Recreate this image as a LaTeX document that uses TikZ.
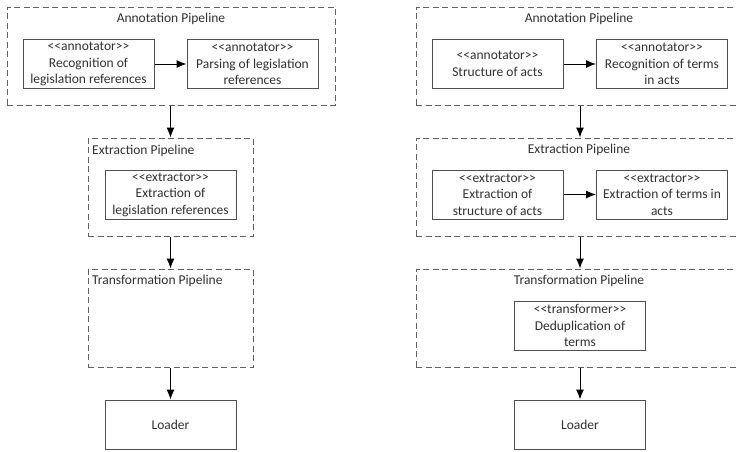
\documentclass[tikz,border=0pt]{standalone}
\usepackage{fontspec}
\setmainfont{Carlito}
\usetikzlibrary{arrows.meta}
\newcommand{\stL}{<\kern0pt<}
\newcommand{\stR}{>\kern0pt>}
\definecolor{boxc}{HTML}{505050}
\definecolor{dashc}{HTML}{606060}
\definecolor{txtc}{HTML}{303030}
\begin{document}
\begin{tikzpicture}[x=1pt,y=-1pt,
  pipe/.style={draw=dashc, line width=1pt, dash pattern=on 6pt off 3.5pt, minimum width=#1, minimum height=98pt, inner sep=0pt},
  comp/.style={draw=boxc, line width=1pt, minimum width=131pt, minimum height=49pt, inner sep=0pt, align=center, text=txtc, font=\fontsize{13.5}{16.5}\selectfont},
  ttl/.style={text=txtc, font=\fontsize{13.5}{15}\selectfont, inner sep=0pt},
  flow/.style={-{Latex[length=10pt,width=8pt]}, line width=1pt, black}]
\useasboundingbox (0,0) rectangle (737,451);
\clip (0,0) rectangle (737,451);
% ---------------- Left column
\node[pipe=328pt] (la) at (171,56) {};
\node[ttl] (lat) at (171,19) {Annotation Pipeline};
\node[comp] (l1) at (88.5,64) {\stL annotator\stR\\Recognition of\\legislation references};
\node[comp] (l2) at (252.5,64) {\stL annotator\stR\\Parsing of legislation\\references};
\node[pipe=165pt] (le) at (170.5,187) {};
\node[ttl, anchor=west] (let) at (92,151) {Extraction Pipeline};
\node[comp] (l3) at (170.5,194.5) {\stL extractor\stR\\Extraction of\\legislation references};
\node[pipe=165pt] (lt) at (170.5,318) {};
\node[ttl, anchor=west] (ltt) at (92,281) {Transformation Pipeline};
\node[comp] (ll) at (170.5,424.5) {Loader};
\draw[flow] (l1) -- (l2);
\draw[flow] (le.north |- la.south) -- (le.north);
\draw[flow] (le) -- (lt);
\draw[flow] (lt) -- (ll);
% ---------------- Right column
\node[pipe=328pt] (ra) at (580,56) {};
\node[ttl] (rat) at (579,19) {Annotation Pipeline};
\node[comp] (r1) at (497.5,64) {\stL annotator\stR\\Structure of acts};
\node[comp] (r2) at (662,64) {\stL annotator\stR\\Recognition of terms\\in acts};
\node[pipe=328pt] (re) at (580,187) {};
\node[ttl] (ret) at (579,150) {Extraction Pipeline};
\node[comp] (r3) at (497.5,194.5) {\stL extractor\stR\\Extraction of\\structure of acts};
\node[comp] (r4) at (662,194.5) {\stL extractor\stR\\Extraction of terms in\\acts};
\node[pipe=328pt] (rt) at (580,318) {};
\node[ttl] (rtt) at (579,281) {Transformation Pipeline};
\node[comp] (r5) at (580,325.5) {\stL transformer\stR\\Deduplication of\\terms};
\node[comp] (rl) at (580,424.5) {Loader};
\draw[flow] (r1) -- (r2);
\draw[flow] (r3) -- (r4);
\draw[flow] (ra) -- (re);
\draw[flow] (re) -- (rt);
\draw[flow] (rt) -- (rl);
\end{tikzpicture}
\end{document}
